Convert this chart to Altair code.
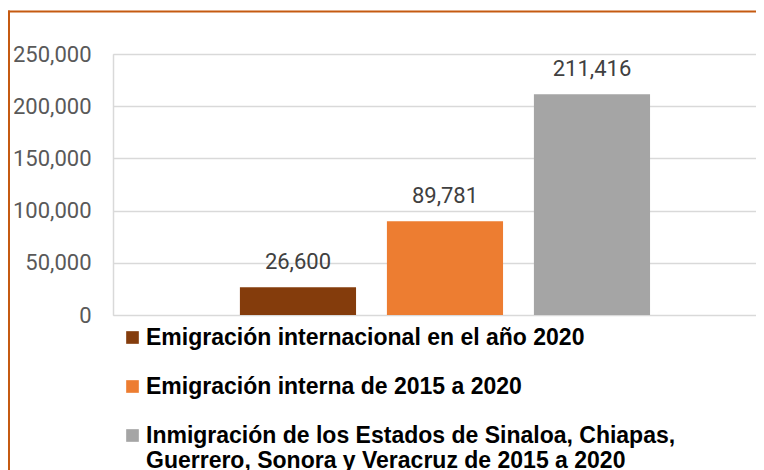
import altair as alt
import pandas as pd

categorias = [
    "Emigración internacional en el año 2020",
    "Emigración interna de 2015 a 2020",
    "Inmigración de los Estados de Sinaloa, Chiapas, Guerrero, Sonora y Veracruz de 2015 a 2020",
]
valores = [26600, 89781, 211416]
colores = ["#843C0C", "#ED7D31", "#A5A5A5"]
ticks_y = [0, 50000, 100000, 150000, 200000, 250000]

df = pd.DataFrame({"categoria": categorias, "valor": valores})

W, H = 643, 261

x_enc = alt.X(
    "categoria:N",
    sort=categorias,
    axis=None,
    scale=alt.Scale(paddingInner=0.21, paddingOuter=0.792, align=0.545),
)

bars = alt.Chart(df).mark_bar().encode(
    x=x_enc,
    y=alt.Y(
        "valor:Q",
        scale=alt.Scale(domain=[0, 250000], nice=False),
        axis=alt.Axis(
            values=ticks_y,
            format=",d",
            title=None,
            ticks=False,
            domain=True,
            domainColor="#D9D9D9",
            domainWidth=1.5,
            grid=True,
            gridColor="#D9D9D9",
            gridWidth=1.4,
            labelFont="Roboto",
            labelFontSize=22,
            labelColor="#595959",
            labelPadding=22,
        ),
    ),
    color=alt.Color(
        "categoria:N",
        sort=categorias,
        scale=alt.Scale(domain=categorias, range=colores),
        legend=alt.Legend(
            title=None,
            orient="none",
            legendX=8,
            legendY=272,
            direction="vertical",
            symbolType="square",
            symbolSize=160,
            symbolStrokeWidth=0,
            labelFont="Liberation Sans",
            labelFontWeight="bold",
            labelFontSize=23,
            labelColor="#000000",
            labelLimit=700,
            labelOffset=2,
            rowPadding=25,
            labelExpr="indexof(datum.label, 'Chiapas, ') > 0 ? [substring(datum.label, 0, indexof(datum.label, 'Chiapas, ') + 8), substring(datum.label, indexof(datum.label, 'Chiapas, ') + 9)] : datum.label",
        ),
    ),
)

labels = alt.Chart(df).mark_text(
    baseline="alphabetic", dy=-18, font="Roboto", fontSize=22, color="#404040"
).encode(
    x=x_enc,
    y="valor:Q",
    text=alt.Text("valor:Q", format=",d"),
)

borde = pd.DataFrame({"b": [1]})
borde_sup = alt.Chart(borde).mark_rule(color="#C55A11", strokeWidth=2).encode(
    x=alt.value(-105), x2=alt.value(W), y=alt.value(-42.5)
)
borde_izq = alt.Chart(borde).mark_rule(color="#C55A11", strokeWidth=2).encode(
    x=alt.value(-104), y=alt.value(-43.5), y2=alt.value(H + 160)
)

chart = (
    alt.layer(bars, labels, borde_sup, borde_izq)
    .properties(
        width=W,
        height=H,
        autosize=alt.AutoSizeParams(type="none"),
        padding={"left": 105, "top": 46, "right": 0, "bottom": 155},
    )
    .configure_view(stroke=None)
    .configure(background="white", style={"guide-label": {"lineHeight": 25}})
)

chart.save("out.html", embed_options={"renderer": "svg", "actions": False})
